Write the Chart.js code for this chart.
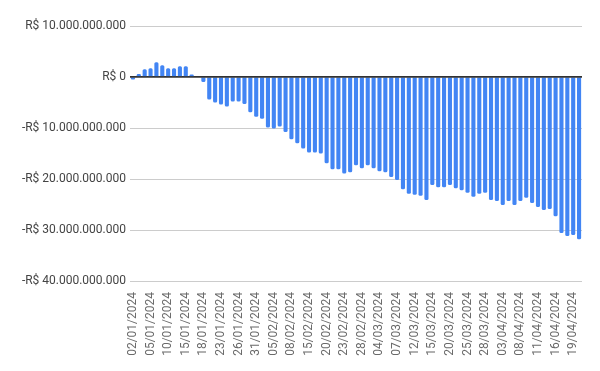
<!DOCTYPE html>
<html>
<head>
<meta charset="utf-8">
<script src="https://cdn.jsdelivr.net/npm/chart.js@4"></script>
<style>
  html, body { margin: 0; padding: 0; background: #fff; }
  #wrap { width: 600px; height: 371px; }
</style>
</head>
<body>
<div id="wrap"><canvas id="chart" width="600" height="371"></canvas></div>
<script>
// business days, 2024
const dates = [
  "02/01/2024", "03/01/2024", "04/01/2024", "05/01/2024", "08/01/2024", "09/01/2024", "10/01/2024",
  "11/01/2024", "12/01/2024", "15/01/2024", "16/01/2024", "17/01/2024", "18/01/2024", "19/01/2024",
  "22/01/2024", "23/01/2024", "24/01/2024", "25/01/2024", "26/01/2024", "29/01/2024", "30/01/2024",
  "31/01/2024", "01/02/2024", "02/02/2024", "05/02/2024", "06/02/2024", "07/02/2024", "08/02/2024",
  "09/02/2024", "14/02/2024", "15/02/2024", "16/02/2024", "19/02/2024", "20/02/2024", "21/02/2024",
  "22/02/2024", "23/02/2024", "26/02/2024", "27/02/2024", "28/02/2024", "29/02/2024", "01/03/2024",
  "04/03/2024", "05/03/2024", "06/03/2024", "07/03/2024", "08/03/2024", "11/03/2024", "12/03/2024",
  "13/03/2024", "14/03/2024", "15/03/2024", "18/03/2024", "19/03/2024", "20/03/2024", "21/03/2024",
  "22/03/2024", "25/03/2024", "26/03/2024", "27/03/2024", "28/03/2024", "01/04/2024", "02/04/2024",
  "03/04/2024", "04/04/2024", "05/04/2024", "08/04/2024", "09/04/2024", "10/04/2024", "11/04/2024",
  "12/04/2024", "15/04/2024", "16/04/2024", "17/04/2024", "18/04/2024", "19/04/2024", "22/04/2024"
];

// values in billions of R$
const saldoBi = [
  -0.5, 0.6, 1.5, 1.7, 2.9, 2.3, 1.7,
  1.7, 2.1, 2.1, 0.5, 0.0, -1.0, -4.4,
  -5.0, -5.4, -5.8, -4.8, -4.8, -5.3, -6.9,
  -7.8, -8.2, -9.9, -10.1, -9.7, -10.8, -12.2,
  -13.0, -14.0, -14.8, -14.8, -15.0, -16.9, -18.1,
  -18.1, -18.9, -18.7, -17.3, -17.9, -17.3, -17.9,
  -18.5, -18.7, -19.6, -20.2, -22.0, -22.9, -23.1,
  -23.3, -24.1, -21.2, -21.6, -21.6, -21.2, -21.8,
  -22.2, -22.7, -23.5, -22.9, -22.7, -24.1, -24.3,
  -25.1, -24.3, -25.1, -24.3, -23.7, -24.7, -25.5,
  -26.1, -25.9, -27.3, -30.6, -31.2, -31.0, -31.8
];

const yTicks = [10e9, 0, -10e9, -20e9, -30e9, -40e9];
const labelEvery = 3;

const saldo = saldoBi.map(v => v * 1e9);

function formatBRL(v) {
  const abs = Math.abs(Math.round(v)).toString().replace(/\B(?=(\d{3})+(?!\d))/g, ".");
  return (v < 0 ? "-R$ " : "R$ ") + abs;
}

// zero line goes on top of the bars, like in sheets
const zeroLine = {
  id: "zeroLine",
  afterDatasetsDraw(chart) {
    const { ctx, chartArea, scales } = chart;
    const y = scales.y.getPixelForValue(0);
    ctx.save();
    ctx.strokeStyle = "#333333";
    ctx.lineWidth = 1.5;
    ctx.beginPath();
    ctx.moveTo(chartArea.left, y);
    ctx.lineTo(chartArea.right, y);
    ctx.stroke();
    ctx.restore();
  }
};

Chart.defaults.font.family = "Roboto, 'Noto Sans', sans-serif";
Chart.defaults.font.size = 12;
Chart.defaults.color = "#5f5f5f";

new Chart(document.getElementById("chart"), {
  type: "bar",
  plugins: [zeroLine],
  data: {
    labels: dates,
    datasets: [{
      data: saldo,
      backgroundColor: "#4285f4",
      borderWidth: 0,
      borderRadius: 1.5,
      categoryPercentage: 1,
      barPercentage: 0.7
    }]
  },
  options: {
    responsive: false,
    animation: false,
    layout: { padding: { top: 26, right: 18, left: 0, bottom: 0 } },
    plugins: {
      legend: { display: false },
      tooltip: { enabled: false }
    },
    scales: {
      x: {
        afterFit: s => { s.height = 90; },
        grid: { display: false },
        border: { display: false },
        ticks: {
          autoSkip: false,
          minRotation: 90,
          maxRotation: 90,
          padding: 3,
          color: "#6a6a6a",
          callback: function (val, i) {
            return i % labelEvery === 0 ? dates[i] : "";
          }
        }
      },
      y: {
        min: -40e9,
        max: 10e9,
        afterFit: s => { s.width = 130; },
        afterBuildTicks: s => { s.ticks = yTicks.map(v => ({ value: v })); },
        grid: {
          color: ctx => ctx.tick && ctx.tick.value === 0 ? "#333333" : "#cccccc",
          lineWidth: 1,
          drawTicks: false
        },
        border: { display: false },
        ticks: {
          padding: 4,
          color: "#444444",
          callback: v => formatBRL(v)
        }
      }
    }
  }
});
</script>
</body>
</html>
